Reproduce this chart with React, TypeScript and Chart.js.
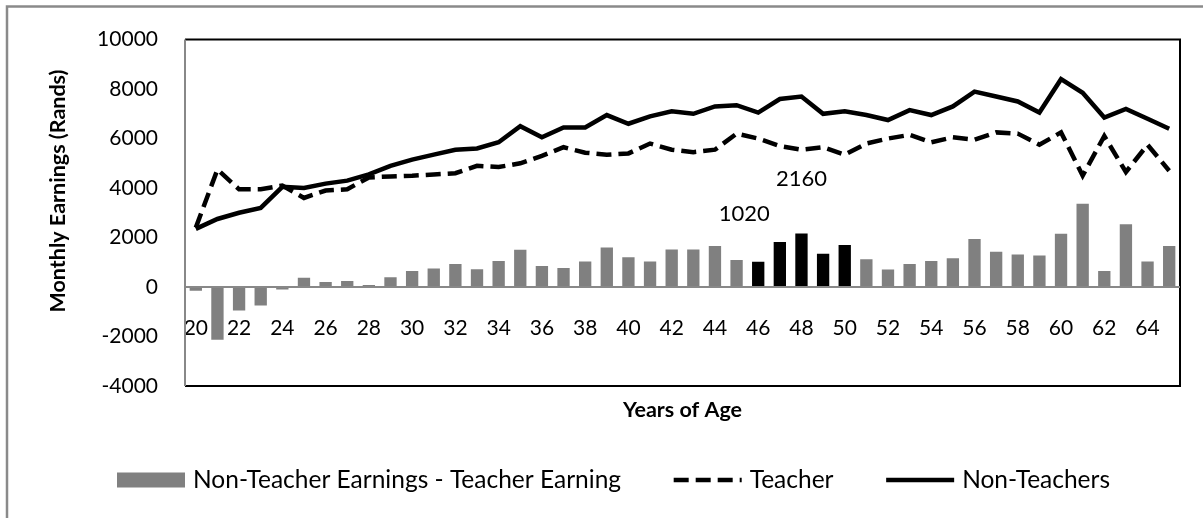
import React, { useEffect, useRef } from 'react';
import { Chart, registerables } from 'chart.js';

Chart.register(...registerables);

// ---------- data ----------
const ages = [
  '20', '21', '22', '23', '24', '25', '26', '27', '28', '29',
  '30', '31', '32', '33', '34', '35', '36', '37', '38', '39',
  '40', '41', '42', '43', '44', '45', '46', '47', '48', '49',
  '50', '51', '52', '53', '54', '55', '56', '57', '58', '59',
  '60', '61', '62', '63', '64', '65',
];

const earningsGap = [
  -150, -2130, -950, -750, -100, 370, 200, 240, 80, 400,
  650, 750, 930, 720, 1050, 1510, 850, 770, 1030, 1600,
  1200, 1030, 1520, 1520, 1660, 1095, 1020, 1820, 2160, 1350,
  1700, 1120, 710, 935, 1055, 1160, 1940, 1430, 1310, 1270,
  2150, 3370, 650, 2540, 1030, 1660,
];

const teacherEarnings = [
  2400, 4750, 3950, 3950, 4100, 3600, 3900, 3950, 4430, 4470,
  4500, 4550, 4600, 4900, 4850, 5000, 5300, 5650, 5430, 5350,
  5400, 5800, 5550, 5450, 5550, 6200, 6000, 5700, 5550, 5650,
  5350, 5800, 6000, 6150, 5850, 6050, 5950, 6250, 6200, 5750,
  6250, 4500, 6100, 4650, 5750, 4700,
];

const nonTeacherEarnings = [
  2350, 2750, 3000, 3200, 4050, 4000, 4180, 4300, 4550, 4900,
  5150, 5350, 5550, 5600, 5850, 6500, 6050, 6450, 6450, 6950,
  6600, 6900, 7100, 7000, 7300, 7350, 7050, 7600, 7700, 7000,
  7100, 6950, 6750, 7150, 6950, 7300, 7900, 7700, 7500, 7050,
  8400, 7850, 6850, 7200, 6800, 6400,
];

const highlightedAges = ['46', '47', '48', '49', '50'];
const labelledAges = ['46', '48'];

const yMin = -4000;
const yMax = 10000;
const yStep = 2000;

const seriesNames = ['Non-Teacher Earnings - Teacher Earning', 'Teacher', 'Non-Teachers'];
const xTitle = 'Years of Age';
const yTitle = 'Monthly Earnings (Rands)';

// ---------- styling ----------
const FONT = 'Lato, "Open Sans", sans-serif';
const GREY_BAR = '#808080';
const AXIS_GREY = '#888888';
const DASH = [15, 7];

function fitFont(ctx: CanvasRenderingContext2D, text: string, weight: string, target: number) {
  ctx.font = `${weight} 24px ${FONT}`;
  const w = ctx.measureText(text).width;
  return Math.round(((24 * target) / w) * 2) / 2;
}

const decorPlugin = {
  id: 'decor',
  afterDatasetsDraw(chart: any) {
    const ctx: CanvasRenderingContext2D = chart.ctx;
    const { left, right, top, bottom } = chart.chartArea;
    const y = chart.scales.y;
    const x = chart.scales.x;
    ctx.save();
    // plot area frame
    ctx.strokeStyle = '#000';
    ctx.lineWidth = 2;
    ctx.beginPath();
    ctx.moveTo(left, top);
    ctx.lineTo(right, top);
    ctx.lineTo(right, bottom);
    ctx.lineTo(left, bottom);
    ctx.stroke();
    // value axis line (left)
    ctx.strokeStyle = AXIS_GREY;
    ctx.beginPath();
    ctx.moveTo(left, top);
    ctx.lineTo(left, bottom);
    ctx.stroke();
    // category axis line at zero
    const y0 = y.getPixelForValue(0);
    ctx.beginPath();
    ctx.moveTo(left, y0);
    ctx.lineTo(right, y0);
    ctx.stroke();

    // data labels for selected bars
    ctx.fillStyle = '#000';
    ctx.font = `22px ${FONT}`;
    ctx.textAlign = 'center';
    ctx.textBaseline = 'middle';
    labelledAges.forEach((age, k) => {
      const i = ages.indexOf(age);
      const v = earningsGap[i];
      const px = x.getPixelForValue(i) + (k === 0 ? -14 : 0);
      const py = y.getPixelForValue(v) - (k === 0 ? 48 : 55);
      ctx.fillText(String(v), px, py);
    });
    ctx.restore();
  },
  afterDraw(chart: any) {
    const ctx: CanvasRenderingContext2D = chart.ctx;
    const { left, right } = chart.chartArea;
    ctx.save();
    // outer chart frame (only top and left edges fall inside the picture)
    ctx.strokeStyle = '#8a8a8a';
    ctx.lineWidth = 2.5;
    ctx.beginPath();
    ctx.moveTo(7, chart.height);
    ctx.lineTo(7, 6.5);
    ctx.lineTo(chart.width, 6.5);
    ctx.stroke();

    // axis titles
    const titleSize = fitFont(ctx, yTitle, 'bold', 242);
    ctx.fillStyle = '#000';
    ctx.font = `bold ${titleSize}px ${FONT}`;
    ctx.textAlign = 'center';
    ctx.textBaseline = 'middle';
    ctx.save();
    ctx.translate(58, 191);
    ctx.rotate(-Math.PI / 2);
    ctx.fillText(yTitle, 0, 0);
    ctx.restore();
    ctx.fillText(xTitle, (left + right) / 2, 410);

    // legend
    const legendSize = fitFont(ctx, seriesNames[0], 'normal', 431);
    ctx.font = `${legendSize}px ${FONT}`;
    ctx.textAlign = 'left';
    const ly = 480;
    const sw = 68;
    const w1 = ctx.measureText(seriesNames[0]).width;
    const w2 = ctx.measureText(seriesNames[1]).width;
    const w3 = ctx.measureText(seriesNames[2]).width;
    const x1 = 117;
    const end1 = x1 + sw + 8 + w1;
    const x3 = 1110 - w3 - 8 - sw;
    const item2W = sw + 8 + w2;
    const x2 = end1 + (x3 - end1 - item2W) / 2;
    // item 1
    ctx.fillStyle = GREY_BAR;
    ctx.fillRect(x1, ly - 7.5, sw, 15);
    ctx.fillStyle = '#000';
    ctx.fillText(seriesNames[0], x1 + sw + 8, ly);
    // item 2
    ctx.strokeStyle = '#000';
    ctx.lineWidth = 4.5;
    ctx.setLineDash(DASH);
    ctx.beginPath();
    ctx.moveTo(x2, ly);
    ctx.lineTo(x2 + sw, ly);
    ctx.stroke();
    ctx.setLineDash([]);
    ctx.fillText(seriesNames[1], x2 + sw + 8, ly);
    // item 3
    ctx.beginPath();
    ctx.moveTo(x3, ly);
    ctx.lineTo(x3 + sw, ly);
    ctx.stroke();
    ctx.fillText(seriesNames[2], x3 + sw + 8, ly);
    ctx.restore();
  },
};

export default function App() {
  const canvasRef = useRef<HTMLCanvasElement | null>(null);

  useEffect(() => {
    document.body.style.margin = '0';
    const canvas = canvasRef.current;
    if (!canvas) return;
    const chart = new Chart(canvas, {
      type: 'bar',
      data: {
        labels: ages,
        datasets: [
          {
            type: 'line',
            label: seriesNames[2],
            data: nonTeacherEarnings,
            borderColor: '#000',
            borderWidth: 4.5,
            pointRadius: 0,
            tension: 0,
            fill: false,
            order: 0,
          } as any,
          {
            type: 'line',
            label: seriesNames[1],
            data: teacherEarnings,
            borderColor: '#000',
            borderWidth: 4.5,
            borderDash: DASH,
            pointRadius: 0,
            tension: 0,
            fill: false,
            order: 1,
          } as any,
          {
            type: 'bar',
            label: seriesNames[0],
            data: earningsGap,
            backgroundColor: ages.map((a) => (highlightedAges.includes(a) ? '#000' : GREY_BAR)),
            borderWidth: 0,
            categoryPercentage: 1,
            barPercentage: 0.57,
            order: 2,
          } as any,
        ],
      },
      options: {
        responsive: false,
        animation: false,
        devicePixelRatio: 1,
        layout: { padding: { left: 0, top: 36, right: 23, bottom: 132 } },
        plugins: {
          legend: { display: false },
          tooltip: { enabled: false },
          title: { display: false },
        },
        scales: {
          x: {
            type: 'category',
            position: { y: 0 } as any,
            offset: true,
            grid: { display: false, drawTicks: false },
            border: { display: false },
            ticks: {
              autoSkip: false,
              maxRotation: 0,
              minRotation: 0,
              padding: 29,
              color: '#000',
              font: { family: FONT, size: 21 },
              callback: (_v: any, i: number) => (i % 2 === 0 ? ages[i] : ''),
            },
          },
          y: {
            min: yMin,
            max: yMax,
            grid: { display: false, drawTicks: false },
            border: { display: false },
            ticks: {
              stepSize: yStep,
              padding: 27,
              color: '#000',
              font: { family: FONT, size: 21 },
              callback: (v: any) => String(v),
            },
            afterFit: (s: any) => {
              s.width = 185;
            },
          },
        },
      } as any,
      plugins: [decorPlugin],
    });
    return () => chart.destroy();
  }, []);

  return (
    <div style={{ width: 1203, height: 518, background: '#fff' }}>
      <canvas ref={canvasRef} width={1203} height={518} />
    </div>
  );
}
